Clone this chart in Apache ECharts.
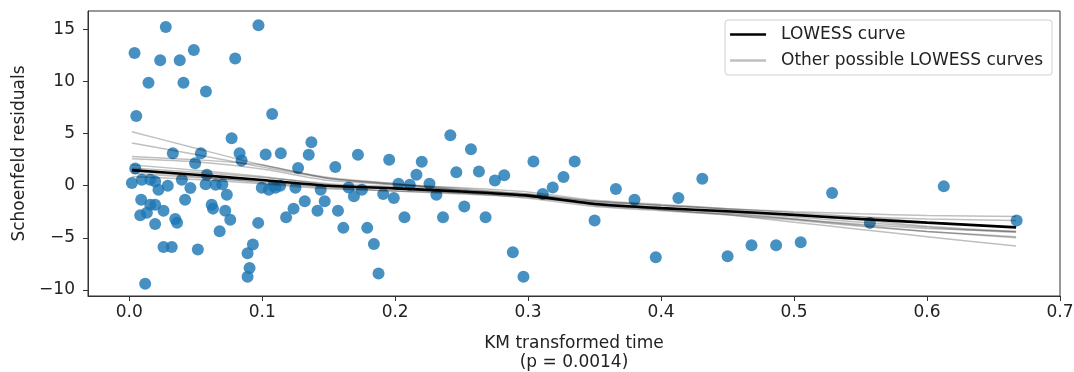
<!DOCTYPE html>
<html>
<head>
<meta charset="utf-8">
<script src="https://cdn.jsdelivr.net/npm/echarts@6/dist/echarts.min.js"></script>
<style>
  html, body { margin: 0; padding: 0; background: #fff; }
  #chart { width: 1074px; height: 372px; }
</style>
</head>
<body>
<div id="chart"></div>
<script>
// residual points
const residX = [
  0.0275, 0.004, 0.0233, 0.038, 0.0486, 0.0972, 0.0797, 0.0145, 0.0408, 0.0577,
  0.0053, 0.1075, 0.077, 0.0328, 0.0539, 0.083, 0.0845, 0.1026, 0.114, 0.0496,
  0.0045, 0.0584, 0.002, 0.0095, 0.0158, 0.0195, 0.022, 0.029, 0.0396, 0.046,
  0.0575, 0.065, 0.07, 0.0734, 0.0997, 0.105, 0.11, 0.009, 0.0158, 0.0195,
  0.0258, 0.042, 0.0083, 0.0133, 0.0346, 0.036, 0.0195, 0.0258, 0.032, 0.0516,
  0.012, 0.062, 0.063, 0.0722, 0.076, 0.097, 0.068, 0.093, 0.089, 0.0905,
  0.089, 0.1236, 0.118, 0.127, 0.137, 0.135, 0.155, 0.172, 0.1955, 0.216,
  0.22, 0.125, 0.144, 0.165, 0.169, 0.175, 0.191, 0.199, 0.2025, 0.211,
  0.2258, 0.132, 0.147, 0.1416, 0.157, 0.161, 0.179, 0.184, 0.207, 0.1875,
  0.2415, 0.246, 0.257, 0.231, 0.252, 0.236, 0.263, 0.275, 0.282, 0.304,
  0.335, 0.3266, 0.3185, 0.311, 0.366, 0.38, 0.413, 0.431, 0.268, 0.35,
  0.2885, 0.2965, 0.396, 0.45, 0.468, 0.4865, 0.505, 0.5286, 0.557, 0.6126,
  0.6674, 0.1085, 0.1135
];
const residY = [
  15.26, 12.77, 12.07, 12.07, 13.06, 15.42, 12.23, 9.9, 9.9, 9.07,
  6.7, 6.9, 4.57, 3.13, 3.13, 3.13, 2.43, 3.0, 3.13, 2.17,
  1.65, 1.05, 0.26, 0.57, 0.57, 0.41, -0.38, 0.0, 0.57, -0.22,
  0.15, 0.1, 0.15, -0.86, -0.2, -0.38, -0.2, -1.34, -1.82, -1.82,
  -2.4, -1.34, -2.84, -2.6, -3.2, -3.55, -3.67, -5.9, -5.9, -6.13,
  -9.42, -1.82, -2.2, -2.4, -3.26, -3.57, -4.37, -5.65, -6.5, -7.9,
  -8.75, -2.2, -3.03, 1.7, 4.18, 2.97, 1.8, 2.97, 2.5, 1.05,
  2.3, -0.2, -0.38, -0.16, -1.02, -0.38, -0.8, -1.18, 0.2, 0.1,
  0.2, -1.5, -1.5, -2.4, -2.4, -4.05, -4.05, -5.6, -3.03, -8.43,
  4.85, 1.3, 3.5, -0.86, -2.0, -3.03, 1.37, 0.5, 1.0, 2.33,
  2.33, 0.83, -0.16, -0.8, -0.32, -1.34, -1.18, 0.67, -3.03, -3.35,
  -6.39, -8.75, -6.87, -6.77, -5.72, -5.72, -5.43, -0.7, -3.57, -0.06,
  -3.35, 0.0, 0.0
];

// x positions where the curves were read
const curveX = [0.002, 0.05, 0.1, 0.15, 0.2, 0.25, 0.3, 0.35, 0.4, 0.45, 0.5, 0.55, 0.6, 0.667];
const lowessY = [1.5, 1.05, 0.55, 0.0, -0.25, -0.55, -0.95, -1.75, -2.15, -2.45, -2.8, -3.2, -3.55, -4.0];
const otherCurves = [
  [5.2, 3.6, 2.0, 0.8, 0.2, -0.5, -1.0, -1.7, -2.3, -2.8, -3.5, -4.2, -4.9, -5.8],
  [4.1, 3.0, 1.8, 0.7, 0.1, -0.4, -0.9, -1.6, -2.1, -2.6, -3.2, -3.8, -4.4, -5.0],
  [2.8, 2.5, 2.0, 0.7, 0.2, -0.3, -0.8, -1.5, -1.9, -2.3, -2.8, -3.3, -3.9, -4.4],
  [2.6, 2.3, 1.6, 0.5, 0.1, -0.2, -0.6, -1.4, -1.8, -2.2, -2.6, -3.0, -3.5, -4.0],
  [1.7, 1.3, 0.8, 0.2, -0.1, -0.4, -0.8, -1.5, -1.9, -2.2, -2.5, -2.7, -2.85, -2.95],
  [1.4, 0.9, 0.3, -0.2, -0.5, -0.8, -1.1, -1.8, -2.2, -2.5, -2.8, -3.0, -3.2, -3.35],
  [2.0, 1.5, 0.9, 0.1, -0.3, -0.7, -1.0, -1.9, -2.3, -2.7, -3.2, -3.7, -4.1, -4.4],
  [0.9, 0.6, 0.2, -0.3, -0.5, -0.7, -1.2, -2.0, -2.4, -2.8, -3.3, -3.9, -4.4, -4.9],
  [1.2, 0.8, 0.4, -0.1, -0.3, -0.6, -0.9, -1.7, -2.1, -2.5, -3.0, -3.5, -4.0, -4.5]
];

const xTicks = [0, 0.1, 0.2, 0.3, 0.4, 0.5, 0.6, 0.7];
const yTicks = [-10, -5, 0, 5, 10, 15];

const font = 'DejaVu Sans';
const fs = 17;
const zip = (xs, ys) => xs.map((x, i) => [x, ys[i]]);

const chart = echarts.init(document.getElementById('chart'));

const series = [
  {
    type: 'scatter',
    data: zip(residX, residY),
    symbolSize: 12,
    itemStyle: { color: '#1f77b4', opacity: 0.82 },
    silent: true
  },
  ...otherCurves.map((ys) => ({
    name: 'Other possible LOWESS curves',
    type: 'line',
    data: zip(curveX, ys),
    symbol: 'none',
    smooth: 0.2,
    lineStyle: { color: 'rgba(0,0,0,0.25)', width: 1.5 },
    itemStyle: { color: 'rgba(0,0,0,0.25)' }
  })),
  {
    name: 'LOWESS curve',
    type: 'line',
    data: zip(curveX, lowessY),
    symbol: 'none',
    smooth: 0.2,
    lineStyle: { color: '#000', width: 2.6 },
    itemStyle: { color: '#000' }
  }
];

chart.setOption({
  animation: false,
  textStyle: { fontFamily: font },
  grid: {
    left: 88, right: 14, top: 11, bottom: 76,
    outerBoundsMode: 'none',
    containLabel: false,
    show: true, borderColor: '#333', borderWidth: 1
  },
  legend: {
    data: ['LOWESS curve', 'Other possible LOWESS curves'],
    orient: 'vertical',
    right: 22,
    top: 20,
    padding: [6, 9, 6, 5],
    itemGap: 9,
    icon: 'rect',
    itemWidth: 36,
    itemHeight: 2.5,
    borderColor: '#d0d0d0',
    borderWidth: 1,
    borderRadius: 3,
    textStyle: { fontFamily: font, fontSize: fs, color: '#222', padding: [0, 0, 0, 10] }
  },
  xAxis: {
    type: 'value',
    min: -0.031,
    max: 0.7,
    name: 'KM transformed time\n(p = 0.0014)',
    nameLocation: 'middle',
    nameGap: 38,
    nameTextStyle: { fontFamily: font, fontSize: fs, color: '#222', lineHeight: 19, verticalAlign: 'top' },
    splitLine: { show: false },
    axisLine: { show: true, onZero: false, lineStyle: { color: '#333' } },
    axisTick: { show: true, length: 5, lineStyle: { color: '#333' }, customValues: xTicks },
    axisLabel: {
      customValues: xTicks,
      margin: 8,
      fontSize: fs,
      color: '#222',
      formatter: (v) => v.toFixed(1)
    }
  },
  yAxis: {
    type: 'value',
    min: -10.6,
    max: 16.8,
    name: 'Schoenfeld residuals',
    nameLocation: 'middle',
    nameGap: 60,
    nameRotate: 90,
    nameTextStyle: { fontFamily: font, fontSize: fs, color: '#222' },
    splitLine: { show: false },
    axisLine: { show: true, onZero: false, lineStyle: { color: '#333' } },
    axisTick: { show: true, length: 5, lineStyle: { color: '#333' }, customValues: yTicks },
    axisLabel: {
      customValues: yTicks,
      margin: 13,
      fontSize: fs,
      color: '#222',
      formatter: (v) => String(v).replace('-', '\u2212')
    }
  },
  series: series
});
</script>
</body>
</html>
